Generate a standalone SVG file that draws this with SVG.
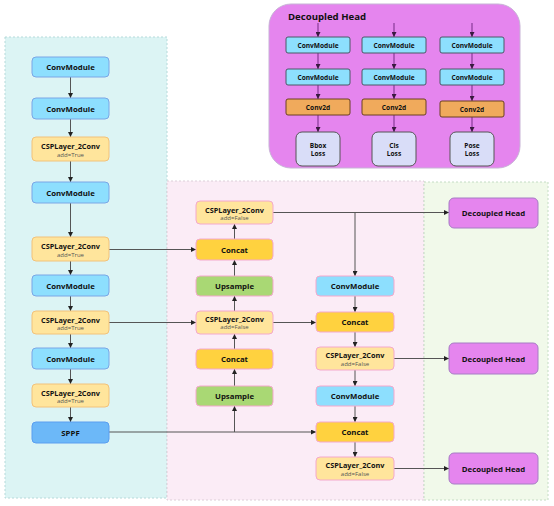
<svg xmlns="http://www.w3.org/2000/svg" width="554" height="506" viewBox="0 0 554 506">
<defs>
<marker id="ah" viewBox="0 0 6 6" refX="6" refY="3" markerWidth="5" markerHeight="5" markerUnits="userSpaceOnUse" orient="auto">
<path d="M0,0 L6,3 L0,6 z" fill="#222"/>
</marker>
<marker id="ahp" viewBox="0 0 6 6" refX="6" refY="3" markerWidth="5" markerHeight="5" markerUnits="userSpaceOnUse" orient="auto">
<path d="M0,0 L6,3 L0,6 z" fill="#3a1a40"/>
</marker>
</defs>
<style>
text{font-family:"Open Sans","Noto Sans","Liberation Sans",sans-serif;text-anchor:middle;dominant-baseline:central;fill:#111}
.t{font-size:7.8px;font-weight:bold}
.tc{font-size:7.3px;font-weight:bold}
.ts{font-size:6.6px;font-weight:bold}
.s{font-size:6px;fill:#555}
.conv{fill:#8ddffe;stroke:#7aa6e6;stroke-width:1}
.csp{fill:#ffe59c;stroke:#f2c27a;stroke-width:1}
.cspm{fill:#ffe59c;stroke:#f4a8cc;stroke-width:1}
.convm{fill:#8ddffe;stroke:#f4a8cc;stroke-width:1}
.cat{fill:#ffd23f;stroke:#f4a8cc;stroke-width:1}
.up{fill:#a9d874;stroke:#f4a8cc;stroke-width:1}
.sppf{fill:#6cb8f8;stroke:#5a9ef0;stroke-width:1}
.dh{fill:#e585ee;stroke:#a67cc4;stroke-width:1}
.hconv{fill:#8ddffe;stroke:#4a5866;stroke-width:1}
.c2d{fill:#f0aa5c;stroke:#6a4020;stroke-width:1}
.loss{fill:#d9ddf8;stroke:#555;stroke-width:1}
.ln{fill:none;stroke:#555;stroke-width:1;marker-end:url(#ah)}
.lp{fill:none;stroke:#9a4aa8;stroke-width:1.5;marker-end:url(#ahp)}
</style>

<g id="panels">
<rect x="5" y="37" width="162" height="461" fill="#dcf4f4" stroke="#b6dada" stroke-width="1" stroke-dasharray="2,2"/>
<rect x="167" y="181" width="257" height="319" fill="#fbecf6" stroke="#dccfd8" stroke-width="1" stroke-dasharray="2,2"/>
<rect x="424" y="182" width="124" height="318" fill="#f1f9ea" stroke="#c4dcc4" stroke-width="1" stroke-dasharray="2,2"/>
<rect x="269" y="4" width="251" height="164" rx="22" fill="#e585ee" stroke="#c7b3d6" stroke-width="1"/>
<text x="288" y="16" style="font-size:9.6px;font-weight:bold;text-anchor:start">Decoupled Head</text>
</g>

<g id="connectors">
<line class="ln" x1="70.5" y1="77" x2="70.5" y2="98"/>
<line class="ln" x1="70.5" y1="119" x2="70.5" y2="137"/>
<line class="ln" x1="70.5" y1="161" x2="70.5" y2="182"/>
<line class="ln" x1="70.5" y1="203" x2="70.5" y2="237"/>
<line class="ln" x1="70.5" y1="261" x2="70.5" y2="275"/>
<line class="ln" x1="70.5" y1="296" x2="70.5" y2="311"/>
<line class="ln" x1="70.5" y1="334" x2="70.5" y2="348"/>
<line class="ln" x1="70.5" y1="369" x2="70.5" y2="384"/>
<line class="ln" x1="70.5" y1="407" x2="70.5" y2="422"/>
<line class="ln" x1="109" y1="249.5" x2="196" y2="249.5"/>
<line class="ln" x1="109" y1="322.5" x2="196" y2="322.5"/>
<line class="ln" x1="109" y1="432" x2="316" y2="432"/>
<line class="ln" x1="234.5" y1="432" x2="234.5" y2="406"/>
<line class="ln" x1="234.5" y1="386" x2="234.5" y2="369"/>
<line class="ln" x1="234.5" y1="349" x2="234.5" y2="334"/>
<line class="ln" x1="234.5" y1="311" x2="234.5" y2="296"/>
<line class="ln" x1="234.5" y1="276" x2="234.5" y2="260"/>
<line class="ln" x1="234.5" y1="239" x2="234.5" y2="224"/>
<line class="ln" x1="273" y1="322.5" x2="316" y2="322.5"/>
<line class="ln" x1="273" y1="212.5" x2="449" y2="212.5"/>
<line class="ln" x1="355" y1="212.5" x2="355" y2="276"/>
<line class="ln" x1="355" y1="296" x2="355" y2="312"/>
<line class="ln" x1="355" y1="332" x2="355" y2="347"/>
<line class="ln" x1="355" y1="370" x2="355" y2="386"/>
<line class="ln" x1="355" y1="406" x2="355" y2="422"/>
<line class="ln" x1="355" y1="442" x2="355" y2="457"/>
<line class="ln" x1="394" y1="358.5" x2="449" y2="358.5"/>
<line class="ln" x1="394" y1="468.5" x2="449" y2="468.5"/>
<line class="lp" x1="318" y1="23" x2="318" y2="37"/>
<line class="lp" x1="318" y1="53" x2="318" y2="69"/>
<line class="lp" x1="318" y1="85" x2="318" y2="99"/>
<line class="lp" x1="318" y1="115" x2="318" y2="132"/>
<line class="lp" x1="394" y1="23" x2="394" y2="37"/>
<line class="lp" x1="394" y1="53" x2="394" y2="69"/>
<line class="lp" x1="394" y1="85" x2="394" y2="99"/>
<line class="lp" x1="394" y1="115" x2="394" y2="132"/>
<line class="lp" x1="472" y1="23" x2="472" y2="37"/>
<line class="lp" x1="472" y1="53" x2="472" y2="69"/>
<line class="lp" x1="472" y1="85" x2="472" y2="101"/>
<line class="lp" x1="472" y1="117" x2="472" y2="132"/>
</g>

<g id="b_conv1"><rect class="conv" x="32" y="57" width="77" height="20" rx="4"/><text class="t" x="70.5" y="67">ConvModule</text></g>
<g id="b_conv2"><rect class="conv" x="32" y="98" width="77" height="21" rx="4"/><text class="t" x="70.5" y="108.5">ConvModule</text></g>
<g id="b_csp1"><rect class="csp" x="32" y="137" width="77" height="24" rx="4"/><text class="tc" x="70.5" y="146">CSPLayer_2Conv</text><text class="s" x="70.5" y="154.5">add=True</text></g>
<g id="b_conv3"><rect class="conv" x="32" y="182" width="77" height="21" rx="4"/><text class="t" x="70.5" y="192.5">ConvModule</text></g>
<g id="b_csp2"><rect class="csp" x="32" y="237" width="77" height="24" rx="4"/><text class="tc" x="70.5" y="246">CSPLayer_2Conv</text><text class="s" x="70.5" y="254.5">add=True</text></g>
<g id="b_conv4"><rect class="conv" x="32" y="275" width="77" height="21" rx="4"/><text class="t" x="70.5" y="285.5">ConvModule</text></g>
<g id="b_csp3"><rect class="csp" x="32" y="311" width="77" height="23" rx="4"/><text class="tc" x="70.5" y="319.5">CSPLayer_2Conv</text><text class="s" x="70.5" y="327.5">add=True</text></g>
<g id="b_conv5"><rect class="conv" x="32" y="348" width="77" height="21" rx="4"/><text class="t" x="70.5" y="358.5">ConvModule</text></g>
<g id="b_csp4"><rect class="csp" x="32" y="384" width="77" height="23" rx="4"/><text class="tc" x="70.5" y="392.5">CSPLayer_2Conv</text><text class="s" x="70.5" y="400.5">add=True</text></g>
<g id="b_sppf"><rect class="sppf" x="32" y="422" width="77" height="21" rx="4"/><text class="t" x="70.5" y="432.5">SPPF</text></g>

<g id="n_csp_top"><rect class="cspm" x="196" y="201" width="77" height="23" rx="4"/><text class="tc" x="234.5" y="209.5">CSPLayer_2Conv</text><text class="s" x="234.5" y="217.5">add=False</text></g>
<g id="n_concat1"><rect class="cat" x="196" y="239" width="77" height="21" rx="4"/><text class="t" x="234.5" y="249.5">Concat</text></g>
<g id="n_up1"><rect class="up" x="196" y="276" width="77" height="20" rx="4"/><text class="t" x="234.5" y="286">Upsample</text></g>
<g id="n_csp_mid"><rect class="cspm" x="196" y="311" width="77" height="23" rx="4"/><text class="tc" x="234.5" y="318.5">CSPLayer_2Conv</text><text class="s" x="234.5" y="327">add=False</text></g>
<g id="n_concat2"><rect class="cat" x="196" y="349" width="77" height="20" rx="4"/><text class="t" x="234.5" y="359">Concat</text></g>
<g id="n_up2"><rect class="up" x="196" y="386" width="77" height="20" rx="4"/><text class="t" x="234.5" y="396">Upsample</text></g>

<g id="n_conv_r1"><rect class="convm" x="316" y="276" width="78" height="20" rx="4"/><text class="t" x="355" y="286">ConvModule</text></g>
<g id="n_concat_r1"><rect class="cat" x="316" y="312" width="78" height="20" rx="4"/><text class="t" x="355" y="322">Concat</text></g>
<g id="n_csp_r1"><rect class="cspm" x="316" y="347" width="78" height="23" rx="4"/><text class="tc" x="355" y="354.5">CSPLayer_2Conv</text><text class="s" x="355" y="363.5">add=False</text></g>
<g id="n_conv_r2"><rect class="convm" x="316" y="386" width="78" height="20" rx="4"/><text class="t" x="355" y="396">ConvModule</text></g>
<g id="n_concat_r2"><rect class="cat" x="316" y="422" width="78" height="20" rx="4"/><text class="t" x="355" y="432">Concat</text></g>
<g id="n_csp_r2"><rect class="cspm" x="316" y="457" width="78" height="23" rx="4"/><text class="tc" x="355" y="464.5">CSPLayer_2Conv</text><text class="s" x="355" y="473.5">add=False</text></g>

<g id="dh1"><rect class="dh" x="449" y="198" width="89" height="30" rx="5"/><text class="t" x="493.5" y="213">Decoupled Head</text></g>
<g id="dh2"><rect class="dh" x="449" y="343" width="89" height="31" rx="5"/><text class="t" x="493.5" y="358.5">Decoupled Head</text></g>
<g id="dh3"><rect class="dh" x="449" y="453" width="89" height="31" rx="5"/><text class="t" x="493.5" y="468.5">Decoupled Head</text></g>

<g id="h_conv_a1"><rect class="hconv" x="286" y="37" width="64" height="16" rx="2"/><text class="ts" x="318" y="45">ConvModule</text></g>
<g id="h_conv_a2"><rect class="hconv" x="286" y="69" width="64" height="16" rx="2"/><text class="ts" x="318" y="77">ConvModule</text></g>
<g id="h_c2d_a"><rect class="c2d" x="286" y="99" width="64" height="16" rx="2"/><text class="ts" x="318" y="107">Conv2d</text></g>
<g id="h_loss_a"><rect class="loss" x="296" y="132" width="44" height="34" rx="6"/><text class="ts" x="318" y="145">Bbox</text><text class="ts" x="318" y="153.5">Loss</text></g>

<g id="h_conv_b1"><rect class="hconv" x="362" y="37" width="64" height="16" rx="2"/><text class="ts" x="394" y="45">ConvModule</text></g>
<g id="h_conv_b2"><rect class="hconv" x="362" y="69" width="64" height="16" rx="2"/><text class="ts" x="394" y="77">ConvModule</text></g>
<g id="h_c2d_b"><rect class="c2d" x="362" y="99" width="64" height="16" rx="2"/><text class="ts" x="394" y="107">Conv2d</text></g>
<g id="h_loss_b"><rect class="loss" x="372" y="132" width="44" height="34" rx="6"/><text class="ts" x="394" y="145">Cls</text><text class="ts" x="394" y="153.5">Loss</text></g>

<g id="h_conv_c1"><rect class="hconv" x="440" y="37" width="64" height="16" rx="2"/><text class="ts" x="472" y="45">ConvModule</text></g>
<g id="h_conv_c2"><rect class="hconv" x="440" y="69" width="64" height="16" rx="2"/><text class="ts" x="472" y="77">ConvModule</text></g>
<g id="h_c2d_c"><rect class="c2d" x="440" y="101" width="64" height="16" rx="2"/><text class="ts" x="472" y="109">Conv2d</text></g>
<g id="h_loss_c"><rect class="loss" x="450" y="132" width="44" height="34" rx="6"/><text class="ts" x="472" y="145">Pose</text><text class="ts" x="472" y="153.5">Loss</text></g>
</svg>
